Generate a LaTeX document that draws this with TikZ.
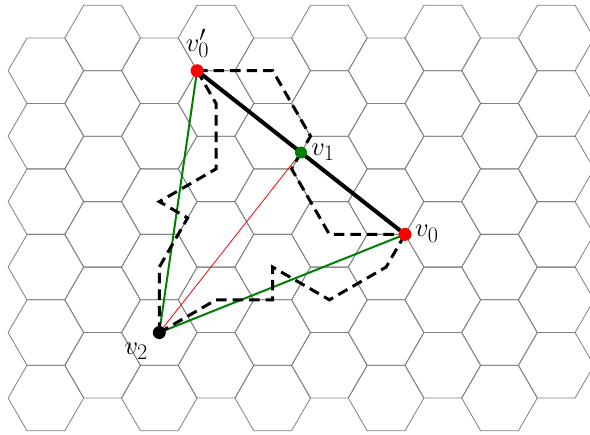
\documentclass[tikz,border=0pt]{standalone}
\usetikzlibrary{calc}
\definecolor{mplgreen}{RGB}{0,128,0}
\definecolor{gridgray}{RGB}{128,128,128}
\begin{document}
\begin{tikzpicture}[x=1pt,y=-1pt,
  hexline/.style={draw=gridgray, line width=0.8pt},
  boldedge/.style={draw=black, line width=4pt},
  greenedge/.style={draw=mplgreen, line width=2pt},
  rededge/.style={draw=red, line width=0.8pt},
  dashpath/.style={draw=black, line width=3pt, dash pattern=on 10.5pt off 6pt},
  dot/.style={circle, inner sep=0pt, minimum size=13pt},
  lab/.style={font=\fontsize{24.88}{30}\selectfont, inner sep=0pt, anchor=base west, scale=1.07, transform shape}]
\useasboundingbox (0,0) rectangle (590,435);
\clip (0,0) rectangle (590,435);
% hexagonal grid
\foreach \k in {0,...,9}{
  \foreach \j in {0,...,5}{
    \pgfmathsetmacro{\cx}{45.9+56.7*\k}
    \pgfmathsetmacro{\cy}{70.7-32.73*mod(\k,2)+65.47*\j}
    \draw[hexline] (\cx,\cy) +(37.8,0) -- +(18.9,32.73) -- +(-18.9,32.73)
      -- +(-37.8,0) -- +(-18.9,-32.73) -- +(18.9,-32.73) -- cycle;
  }
}
% named points
\coordinate (v0p) at (197.1,70.7);
\coordinate (v0) at (405.0,234.38);
\coordinate (v2) at (159.3,332.58);
\coordinate (v1) at ($(v0p)!0.5!(v0)$);
\coordinate (a1) at (272.7,70.7);
\coordinate (a2) at (310.5,136.17);
\coordinate (b1) at (291.6,168.91);
\coordinate (b2) at (329.4,234.38);
\coordinate (c1) at (386.1,267.11);
\coordinate (c2) at (329.4,299.85);
\coordinate (c3) at (272.7,267.11);
\coordinate (c4) at (272.7,299.85);
\coordinate (c5) at (216.0,299.85);
\coordinate (d1) at (216.0,103.44);
\coordinate (d2) at (216.0,168.91);
\coordinate (d3) at (159.3,201.64);
\coordinate (d4) at (187.65,218.0);
\coordinate (d5) at (159.3,267.11);
% straight edges
\draw[greenedge] (v0p) -- (v2);
\draw[greenedge] (v0) -- (v2);
\draw[rededge] (v2) -- (v1);
\draw[boldedge] (v0p) -- (v0);
% dashed paths
\draw[dashpath] (v0p) -- (a1) -- (a2) -- (v1);
\draw[dashpath] (v1) -- (b1) -- (b2) -- (v0);
\draw[dashpath] (v0) -- (c1) -- (c2) -- (c3) -- (c4) -- (c5) -- (v2);
\draw[dashpath] (v0p) -- (d1) -- (d2) -- (d3) -- (d4) -- (d5) -- (v2);
% vertices
\node[dot, fill=red] (n0p) at (v0p) {};
\node[dot, fill=red] (n0) at (v0) {};
\node[dot, fill=mplgreen, minimum size=12pt] (n1) at (v1) {};
\node[dot, fill=black] (n2) at (v2) {};
% labels
\node[lab] (l0p) at ($(v0p)+(-11.5,-19.5)$) {$v_0'$};
\node[lab] (l1) at ($(v1)+(10,2.8)$) {$v_1$};
\node[lab] (l0) at ($(v0)+(10,2.5)$) {$v_0$};
\node[lab] (l2) at ($(v2)+(-35,21.5)$) {$v_2$};
\end{tikzpicture}
\end{document}
